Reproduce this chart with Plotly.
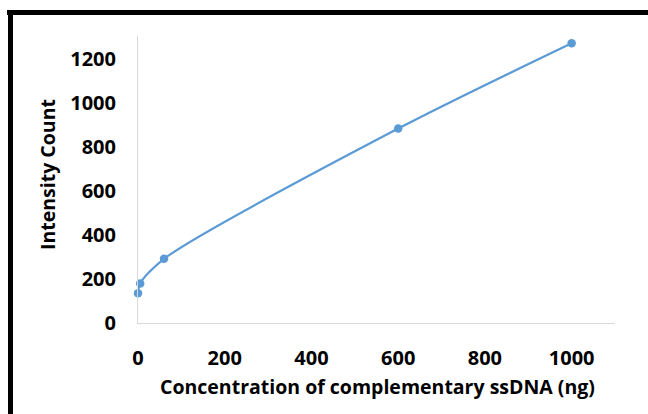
import plotly.graph_objects as go

concentration = [0, 5, 60, 600, 1000]
intensity = [135, 180, 292, 884, 1272]
x_ticks = [0, 200, 400, 600, 800, 1000]
y_ticks = [0, 200, 400, 600, 800, 1000, 1200]

W, H = 648, 414
L, R, T, B = 138, 33, 36, 91
pw, ph = W - L - R, H - T - B

def px(xp):
    return (xp - L) / pw

def py(yp):
    return (H - B - yp) / ph

FONT = "Open Sans"
blue = "#5b9bd5"

fig = go.Figure()
fig.add_trace(go.Scatter(
    x=concentration, y=intensity, mode="lines+markers",
    line=dict(color=blue, width=2.2, shape="spline", smoothing=0.8),
    marker=dict(color=blue, size=8.5),
    showlegend=False, cliponaxis=False,
))

axis_common = dict(
    showgrid=False, zeroline=False, showline=True, linecolor="#d9d9d9", linewidth=1,
    ticks="", tickfont=dict(family=FONT, size=20, color="#000000", weight="bold"),
    ticklabelstandoff=17,
)
fig.update_xaxes(range=[0, 1100], tickvals=x_ticks, ticktext=[str(v) for v in x_ticks], **axis_common)
fig.update_yaxes(range=[0, 1305], tickvals=y_ticks, ticktext=[str(v) for v in y_ticks], **axis_common)

fig.update_layout(
    width=W, height=H, margin=dict(l=L, r=R, t=T, b=B, autoexpand=False),
    paper_bgcolor="white", plot_bgcolor="white",
    annotations=[
        dict(text="Concentration of complementary ssDNA (ng)", xref="paper", yref="paper",
             x=px(377), y=py(386), showarrow=False, xanchor="center", yanchor="middle",
             font=dict(family=FONT, size=19.5, color="#000000", weight="bold")),
        dict(text="Intensity Count", xref="paper", yref="paper", textangle=-90,
             x=px(47), y=py(175), showarrow=False, xanchor="center", yanchor="middle",
             font=dict(family=FONT, size=19.5, color="#000000", weight="bold")),
    ],
    shapes=[
        dict(type="line", xref="paper", yref="paper", x0=px(7), x1=px(648), y0=py(12.5), y1=py(12.5),
             line=dict(color="black", width=5)),
        dict(type="line", xref="paper", yref="paper", x0=px(10.5), x1=px(10.5), y0=py(10), y1=py(414),
             line=dict(color="black", width=5)),
    ],
)
fig.write_html("out.html")
